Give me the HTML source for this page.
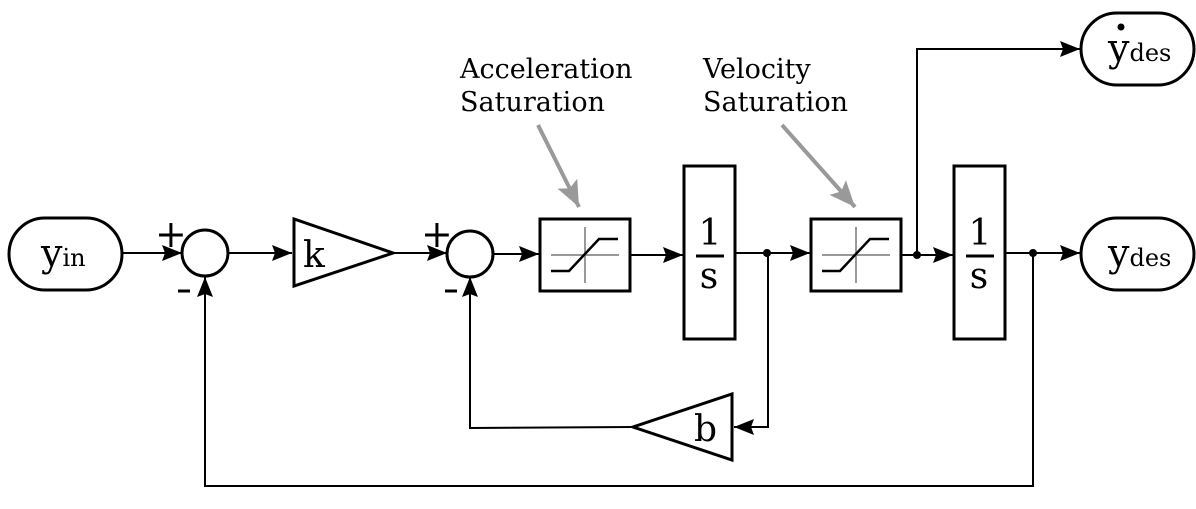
<!DOCTYPE html>
<html><head><meta charset="utf-8"><style>
html,body{margin:0;padding:0;background:#fff;}
svg{display:block;}
text{font-family:"DejaVu Serif","Liberation Serif",serif;fill:#000;}
</style></head><body>
<svg width="1196" height="509" viewBox="0 0 1196 509" xmlns="http://www.w3.org/2000/svg">
<defs>
<marker id="ah" viewBox="0 0 10 10" refX="10" refY="5" markerWidth="20" markerHeight="16" markerUnits="userSpaceOnUse" preserveAspectRatio="none" orient="auto"><path d="M0,0 L10,5 L0,10 L1.5,5 z" fill="#000"/></marker>
<marker id="gh" viewBox="0 0 10 10" refX="10" refY="5" markerWidth="26" markerHeight="22" markerUnits="userSpaceOnUse" preserveAspectRatio="none" orient="auto"><path d="M0,0 L10,5 L0,10 L2,5 z" fill="#999"/></marker>
</defs>
<g fill="none" stroke="#000" stroke-width="2">
<line x1="123" y1="253" x2="182" y2="253" marker-end="url(#ah)"/>
<line x1="228" y1="253" x2="292" y2="253" marker-end="url(#ah)"/>
<line x1="394" y1="253" x2="447" y2="253" marker-end="url(#ah)"/>
<line x1="493" y1="254" x2="539" y2="254" marker-end="url(#ah)"/>
<line x1="631" y1="255" x2="683" y2="255" marker-end="url(#ah)"/>
<line x1="736" y1="253" x2="810" y2="253" marker-end="url(#ah)"/>
<line x1="901" y1="255" x2="953" y2="255" marker-end="url(#ah)"/>
<line x1="1006" y1="253" x2="1080" y2="253" marker-end="url(#ah)"/>
<polyline points="917,255 917,49 1080,49" marker-end="url(#ah)"/>
<polyline points="768,253 768,427 734,427" marker-end="url(#ah)"/>
<polyline points="632,427 470,428 470,277" marker-end="url(#ah)"/>
<polyline points="1033,253 1033,486 205,486 205,277" marker-end="url(#ah)"/>
</g>
<g fill="#000">
<circle cx="767" cy="253" r="4"/>
<circle cx="917" cy="255" r="4"/>
<circle cx="1033" cy="253" r="4"/>
</g>
<g fill="#fff" stroke="#000" stroke-width="3">
<rect x="9" y="218" width="113" height="72" rx="36"/>
<circle cx="205" cy="253" r="23"/>
<polygon points="294,219 294,286 393,253"/>
<circle cx="470" cy="254" r="23"/>
<rect x="540" y="219" width="90" height="72"/>
<rect x="684" y="166" width="51" height="173"/>
<rect x="811" y="219" width="90" height="72"/>
<rect x="954" y="166" width="51" height="173"/>
<rect x="1081" y="218" width="113" height="72" rx="36"/>
<rect x="1081" y="13" width="113" height="72" rx="36"/>
<polygon points="732,394 732,460 633,427"/>
</g>
<g fill="none" stroke="#999" stroke-width="2">
<line x1="551" y1="255" x2="619" y2="255"/><line x1="585" y1="227" x2="585" y2="283"/>
<line x1="822" y1="255" x2="890" y2="255"/><line x1="856" y1="227" x2="856" y2="283"/>
</g>
<g fill="none" stroke="#000" stroke-width="2.5">
<polyline points="551,271 569,271 599,239 618,239"/>
<polyline points="822,271 840,271 870,239 889,239"/>
<line x1="696" y1="256" x2="724" y2="256" stroke-width="3"/>
<line x1="966" y1="256" x2="994" y2="256" stroke-width="3"/>
</g>
<g fill="none" stroke="#999" stroke-width="4">
<line x1="538" y1="125" x2="579" y2="207" marker-end="url(#gh)"/>
<line x1="782" y1="125" x2="855" y2="207" marker-end="url(#gh)"/>
</g>
<text x="460" y="78" font-size="27">Acceleration</text>
<text x="460" y="111" font-size="27">Saturation</text>
<text x="703" y="78" font-size="27">Velocity</text>
<text x="703" y="111" font-size="27">Saturation</text>
<text x="41" y="266" font-size="38">y<tspan font-size="24">in</tspan></text>
<text x="303" y="267" font-size="36">k</text>
<text x="694" y="441" font-size="36">b</text>
<text x="710" y="245" font-size="36" text-anchor="middle">1</text><text x="709" y="288" font-size="36" text-anchor="middle">s</text>
<text x="980" y="245" font-size="36" text-anchor="middle">1</text><text x="979" y="288" font-size="36" text-anchor="middle">s</text>
<text x="1108" y="266" font-size="38">y<tspan font-size="24">des</tspan></text>
<text x="1108" y="61" font-size="38">y<tspan font-size="24">des</tspan></text>
<circle cx="1121" cy="27" r="3.5" fill="#000"/>
<text x="155" y="247" font-size="38">+</text>
<line x1="178" y1="291" x2="190" y2="291" stroke="#000" stroke-width="3"/>
<text x="421" y="247" font-size="38">+</text>
<line x1="445" y1="291" x2="457" y2="291" stroke="#000" stroke-width="3"/>
</svg>
</body></html>
